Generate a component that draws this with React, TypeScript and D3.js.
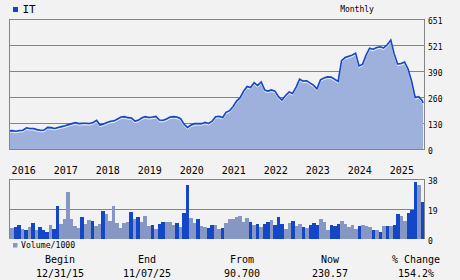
import React from "react";
import * as d3 from "d3";

const W = 460;
const H = 280;

// Monthly closes: Dec 2015 .. Oct 2025, then 11/07/25
const prices: number[] = [
  90.7, 92, 89, 93, 94, 106, 103, 103, 97, 94, 95, 108,
  107, 103, 108, 112, 116, 122, 127, 132, 127, 129, 129, 128,
  133, 144, 120, 125, 133, 139, 141, 150, 160, 162, 157, 155,
  140, 145, 156, 162, 158, 160, 163, 145, 144, 150, 160, 162,
  160, 152, 125, 108, 120, 127, 127, 127, 133, 128, 140, 162,
  164, 158, 184, 192, 212, 240, 256, 289, 313, 308, 332, 318,
  336, 296, 290, 296, 290, 262, 245, 268, 286, 278, 310, 350,
  340, 342, 331, 320, 302, 346, 356, 361, 360, 350, 338, 442,
  458, 464, 470, 480, 416, 425, 470, 505, 500, 508, 512, 506,
  522, 546, 480, 426, 428, 436, 400, 340, 258, 262, 242, 230.57,
];

// Monthly volume (/1000)
const volumes: number[] = [
  7.0, 7.7, 8.8, 6.2, 5.6, 7.5, 10.0, 5.6, 7.5, 5.6, 4.3, 8.8,
  6.2, 20.9, 9.4, 12.6, 29.9, 12.6, 8.1, 6.8, 13.9, 9.4, 12.0, 11.3,
  8.1, 9.4, 17.7, 15.8, 11.3, 20.9, 10.0, 6.8, 10.0, 10.7, 17.1, 12.6,
  13.9, 10.7, 14.5, 8.1, 8.8, 6.2, 9.4, 10.7, 10.7, 10.7, 8.8, 10.0,
  7.5, 16.4, 34.4, 13.2, 10.0, 12.6, 8.1, 7.5, 6.8, 8.8, 8.8, 6.2,
  6.8, 10.0, 12.6, 12.6, 13.9, 14.5, 10.7, 13.2, 10.7, 8.8, 9.4, 7.5,
  9.4, 10.7, 12.0, 8.8, 13.9, 9.4, 6.2, 10.0, 11.3, 8.1, 9.4, 7.5,
  6.8, 8.8, 10.0, 8.8, 12.6, 10.7, 5.6, 8.8, 8.1, 9.4, 11.3, 9.4,
  7.5, 8.8, 6.2, 8.1, 8.8, 8.1, 7.5, 5.6, 5.6, 4.3, 8.1, 8.1,
  8.1, 8.8, 15.8, 14.5, 11.3, 16.4, 18.4, 36.3, 34.4, 23.5,
];

// D = dark, L = light
const volumeTone: string =
  "LDDLDLDLDDDL" +
  "DDLLLLLLDLLD" +
  "LLDLLLLLLLDL" +
  "DLLLDLDDLLLD" +
  "LDDLLDLLDDLL" +
  "DLLLLLLLDLDL" +
  "DDLDDDLLDLLD" +
  "LDDDLLLDDDLL" +
  "LLLDLLLDLDLD" +
  "LDDLLDDDLD";

const priceTicks = [0, 130, 260, 390, 521, 651];
const volumeTicks = [0, 19, 38];
const years = [2016, 2017, 2018, 2019, 2020, 2021, 2022, 2023, 2024, 2025];

const summaryLabels = ["Begin", "End", "From", "Now", "% Change"];
const summaryValues = ["12/31/15", "11/07/25", "90.700", "230.57", "154.2%"];

const BG = "#f2f2f2";
const GRID = "#858585";
const LINE = "#1448c8";
const FILL = "#9eb0dc";
const DARK = "#1446c8";
const LIGHT = "#8797c4";
const MONO = "'DejaVu Sans Mono', 'Liberation Mono', monospace";

export default function App() {
  const start = new Date(2015, 11, 31);
  const end = new Date(2025, 10, 7);
  const dates: Date[] = prices.map((_, i) => {
    if (i === 0) return start;
    if (i === prices.length - 1) return end;
    return new Date(2015, 12 + i, 0);
  });

  const x = d3.scaleTime().domain([start, end]).range([9, 423]);
  const y = d3.scaleLinear().domain([0, 651]).range([149, 19]);
  const vy = d3.scaleLinear().domain([0, 38]).range([238.7, 179]);
  const band = d3
    .scaleBand<number>()
    .domain(volumes.map((_, i) => i))
    .range([10, 424.5])
    .padding(0);

  const pts: [number, number][] = prices.map((p, i) => [x(dates[i]), y(p)]);
  const area = d3
    .area<[number, number]>()
    .x((d) => d[0])
    .y0(149)
    .y1((d) => d[1])(pts);
  const line = d3
    .line<[number, number]>()
    .x((d) => d[0])
    .y((d) => d[1])(pts);

  const colX = [60, 147, 242, 330, 416];

  return (
    <svg
      width={W}
      height={H}
      viewBox={`0 0 ${W} ${H}`}
      style={{ position: "absolute", left: 0, top: 0, display: "block" }}
    >
      <rect x={0} y={0} width={W} height={H} fill={BG} />

      {/* header */}
      <rect x={13} y={7} width={5} height={5} fill={DARK} />
      <text x={22.5} y={13} fontFamily={MONO} fontSize={11} fill="#000">
        IT
      </text>
      <text
        x={357}
        y={12}
        fontFamily={MONO}
        fontSize={8}
        textAnchor="middle"
        fill="#000"
      >
        Monthly
      </text>

      {/* price gridlines (behind area) */}
      {priceTicks.map((t) => {
        const yy = Math.round(y(t)) + 0.5;
        return (
          <line
            key={"pg" + t}
            x1={9}
            x2={424.5}
            y1={yy}
            y2={yy}
            stroke={GRID}
            strokeWidth={1}
          />
        );
      })}
      <path d={area || ""} fill={FILL} />
      <path
        d={line || ""}
        fill="none"
        stroke="#ffffff"
        strokeWidth={1}
        transform="translate(0,1.6)"
        opacity={0.8}
      />
      <path d={line || ""} fill="none" stroke={LINE} strokeWidth={1.6} />
      <line x1={9} x2={424.5} y1={149.5} y2={149.5} stroke={GRID} />
      <line x1={9.5} x2={9.5} y1={19} y2={150} stroke={GRID} />
      <line x1={424.5} x2={424.5} y1={19} y2={150} stroke={GRID} />

      {priceTicks.map((t) => (
        <text
          key={"pt" + t}
          x={428}
          y={Math.round(y(t)) + 4.8}
          fontFamily={MONO}
          fontSize={8}
          fill="#000"
        >
          {t}
        </text>
      ))}

      {/* year labels */}
      {years.map((yr) => (
        <text
          key={"yr" + yr}
          x={x(new Date(yr, 0, 1)) + 2.5}
          y={174}
          fontFamily={MONO}
          fontSize={10}
          fill="#000"
        >
          {yr}
        </text>
      ))}

      {/* volume gridlines (behind bars) */}
      {volumeTicks
        .filter((t) => t > 0)
        .map((t) => {
          const yy = Math.round(vy(t)) + 0.5;
          return (
            <line
              key={"vg" + t}
              x1={9}
              x2={424.5}
              y1={yy}
              y2={yy}
              stroke={GRID}
            />
          );
        })}
      {volumes.map((v, i) => (
        <rect
          key={"v" + i}
          x={band(i)}
          y={vy(v)}
          width={band.bandwidth()}
          height={vy(0) - vy(v)}
          fill={volumeTone[i] === "D" ? DARK : LIGHT}
          shapeRendering="crispEdges"
        />
      ))}
      <line x1={9.5} x2={9.5} y1={179} y2={239} stroke={GRID} />
      <line x1={424.5} x2={424.5} y1={179} y2={239} stroke={GRID} />
      {volumeTicks.map((t) => (
        <text
          key={"vt" + t}
          x={428}
          y={Math.round(vy(t)) + 4.8}
          fontFamily={MONO}
          fontSize={8}
          fill="#000"
        >
          {t}
        </text>
      ))}

      {/* volume legend */}
      <rect x={13} y={243} width={4.5} height={4.5} fill={LIGHT} />
      <text x={21} y={248} fontFamily={MONO} fontSize={8.2} fill="#000">
        Volume/1000
      </text>

      {/* summary */}
      {summaryLabels.map((s, i) => (
        <text
          key={"sl" + i}
          x={colX[i]}
          y={262.5}
          fontFamily={MONO}
          fontSize={10}
          textAnchor="middle"
          fill="#000"
        >
          {s}
        </text>
      ))}
      {summaryValues.map((s, i) => (
        <text
          key={"sv" + i}
          x={colX[i]}
          y={276.5}
          fontFamily={MONO}
          fontSize={10}
          textAnchor="middle"
          fill="#000"
        >
          {s}
        </text>
      ))}
    </svg>
  );
}
